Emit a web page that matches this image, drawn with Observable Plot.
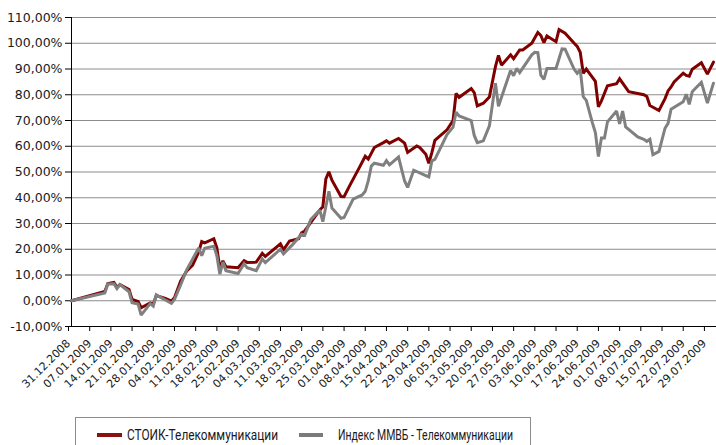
<!DOCTYPE html>
<html>
<head>
<meta charset="utf-8">
<script src="https://cdn.jsdelivr.net/npm/d3@7"></script>
<script src="https://cdn.jsdelivr.net/npm/@observablehq/plot@0.6"></script>
<style>
  html, body { margin: 0; padding: 0; background: #fff; }
  #wrap { position: relative; width: 716px; height: 445px; overflow: hidden; }
  #legend {
    position: absolute; left: 75px; top: 417px; width: 456px; height: 29px;
    box-sizing: border-box; border: 1px solid #8c8c8c; background: #fff;
  }
  #legend svg { position: absolute; left: -1px; top: -1px; overflow: visible; }
</style>
</head>
<body>
<div id="wrap">
  <div id="chart"></div>
  <div id="legend">
    <svg width="620" height="28" font-family="Roboto, sans-serif" font-size="15.5" fill="#1a1a1a">
      <rect x="22" y="16" width="25" height="4" fill="#8b1111"></rect>
      <text x="52" y="23" textLength="151" lengthAdjust="spacingAndGlyphs">СТОИК-Телекоммуникации</text>
      <rect x="224" y="16" width="24" height="4" fill="#7a7a7a"></rect>
      <text x="263" y="23" textLength="175" lengthAdjust="spacingAndGlyphs">Индекс ММВБ - Телекоммуникации</text>
    </svg>
  </div>
</div>
<script>
// ---- data ----
const seriesNames = ["СТОИК-Телекоммуникации", "Индекс ММВБ - Телекоммуникации"];

const stoikDates = ["2008-12-31","2009-01-11","2009-01-12","2009-01-14","2009-01-15","2009-01-16","2009-01-19","2009-01-20","2009-01-22","2009-01-23","2009-01-26","2009-01-27","2009-01-28","2009-01-31","2009-02-02","2009-02-03","2009-02-05","2009-02-07","2009-02-09","2009-02-11","2009-02-12","2009-02-13","2009-02-16","2009-02-17","2009-02-18","2009-02-19","2009-02-20","2009-02-24","2009-02-26","2009-02-27","2009-03-02","2009-03-04","2009-03-05","2009-03-10","2009-03-11","2009-03-13","2009-03-16","2009-03-17","2009-03-18","2009-03-20","2009-03-23","2009-03-24","2009-03-25","2009-03-26","2009-03-27","2009-03-30","2009-03-31","2009-04-02","2009-04-05","2009-04-07","2009-04-08","2009-04-10","2009-04-13","2009-04-14","2009-04-15","2009-04-18","2009-04-20","2009-04-21","2009-04-24","2009-04-25","2009-04-27","2009-04-28","2009-04-29","2009-04-30","2009-05-04","2009-05-06","2009-05-07","2009-05-08","2009-05-12","2009-05-13","2009-05-14","2009-05-16","2009-05-18","2009-05-20","2009-05-21","2009-05-22","2009-05-25","2009-05-26","2009-05-28","2009-05-29","2009-06-01","2009-06-03","2009-06-04","2009-06-05","2009-06-06","2009-06-09","2009-06-10","2009-06-12","2009-06-15","2009-06-16","2009-06-17","2009-06-18","2009-06-19","2009-06-22","2009-06-23","2009-06-24","2009-06-26","2009-06-29","2009-06-30","2009-07-03","2009-07-08","2009-07-09","2009-07-10","2009-07-13","2009-07-15","2009-07-16","2009-07-17","2009-07-18","2009-07-21","2009-07-22","2009-07-23","2009-07-24","2009-07-27","2009-07-29","2009-07-31"];
const stoikValues = [0,3.6,6.7,7.1,5.2,6.3,4.4,0.5,-0.3,-2.7,-0.8,-1.3,2.0,0.9,-0.1,1.2,7.5,11.5,13.8,18.9,23.0,22.5,24.1,20.5,12.5,15.5,13.2,12.8,15.6,14.9,15.0,18.4,17.2,22.1,19.8,23.2,24.1,26.4,27.1,30.3,35.3,36.5,47.3,50.1,46.8,40.5,40.4,45.0,51.6,56.1,55.0,59.5,61.4,62.1,61.2,63.0,61.2,57.6,60.1,59.5,56.9,53.4,57.5,62.3,66.4,70.0,80.5,79.0,82.4,80.8,75.7,76.7,79.1,90.9,95.3,91.5,95.5,94.0,97.4,97.4,100.0,104.2,103.0,100.2,102.8,100.6,105.3,103.9,100.0,98.8,96.5,88.3,90.0,85.2,75.3,77.6,83.5,84.3,86.2,81.2,80.0,79.3,75.8,73.9,78.5,81.5,83.0,85.0,88.4,87.5,87.2,89.9,92.4,88.0,92.7];

const indexDates = ["2008-12-31","2009-01-11","2009-01-12","2009-01-14","2009-01-15","2009-01-16","2009-01-19","2009-01-20","2009-01-22","2009-01-23","2009-01-26","2009-01-27","2009-01-28","2009-01-31","2009-02-02","2009-02-03","2009-02-05","2009-02-07","2009-02-11","2009-02-12","2009-02-13","2009-02-16","2009-02-17","2009-02-18","2009-02-19","2009-02-20","2009-02-24","2009-02-26","2009-02-27","2009-03-02","2009-03-04","2009-03-05","2009-03-10","2009-03-11","2009-03-14","2009-03-17","2009-03-18","2009-03-20","2009-03-23","2009-03-24","2009-03-26","2009-03-27","2009-03-30","2009-03-31","2009-04-03","2009-04-06","2009-04-07","2009-04-08","2009-04-09","2009-04-10","2009-04-13","2009-04-14","2009-04-15","2009-04-18","2009-04-19","2009-04-20","2009-04-21","2009-04-23","2009-04-27","2009-04-28","2009-04-29","2009-04-30","2009-05-04","2009-05-06","2009-05-07","2009-05-08","2009-05-12","2009-05-13","2009-05-14","2009-05-16","2009-05-18","2009-05-20","2009-05-21","2009-05-23","2009-05-25","2009-05-26","2009-05-27","2009-05-28","2009-06-01","2009-06-02","2009-06-03","2009-06-04","2009-06-05","2009-06-06","2009-06-09","2009-06-11","2009-06-12","2009-06-15","2009-06-16","2009-06-17","2009-06-18","2009-06-19","2009-06-21","2009-06-22","2009-06-23","2009-06-24","2009-06-25","2009-06-26","2009-06-29","2009-06-30","2009-07-01","2009-07-02","2009-07-06","2009-07-08","2009-07-09","2009-07-10","2009-07-11","2009-07-13","2009-07-15","2009-07-16","2009-07-17","2009-07-21","2009-07-22","2009-07-23","2009-07-24","2009-07-25","2009-07-27","2009-07-29","2009-07-31"];
const indexValues = [0,3.0,6.5,6.6,4.7,6.3,3.5,-0.8,-1.3,-5.6,-1.1,-2.1,2.3,0.3,-1.0,0.5,6.0,11.9,20.5,17.5,20.4,21.2,17.5,10.3,15.0,11.7,10.6,14.4,12.8,11.7,16.2,14.8,20.0,18.2,21.8,25.8,25.4,31.5,35.2,30.7,42.5,36.0,32.0,32.3,39.5,41.1,42.5,46.5,52.3,53.4,52.6,54.4,52.8,55.8,51.1,46.5,44.0,50.7,48.6,48.1,54.3,54.9,64.5,67.4,73.2,71.8,70.0,64.2,61.4,62.1,67.9,84.5,75.5,82.5,89.4,87.4,90.2,88.6,95.5,96.5,96.4,87.6,86.0,90.2,90.2,97.8,97.7,89.9,88.3,89.8,79.3,77.8,69.2,65.3,56.0,63.2,63.2,69.5,73.7,68.7,73.7,67.5,63.6,62.7,61.9,62.7,56.7,58.0,67.0,68.9,74.4,77.3,80.2,76.3,81.2,82.4,84.8,76.8,84.5];

const xTickLabels = ["31.12.2008","07.01.2009","14.01.2009","21.01.2009","28.01.2009","04.02.2009","11.02.2009","18.02.2009","25.02.2009","04.03.2009","11.03.2009","18.03.2009","25.03.2009","01.04.2009","08.04.2009","15.04.2009","22.04.2009","29.04.2009","06.05.2009","13.05.2009","20.05.2009","27.05.2009","03.06.2009","10.06.2009","17.06.2009","24.06.2009","01.07.2009","08.07.2009","15.07.2009","22.07.2009","29.07.2009"];
const yTicks = [-10,0,10,20,30,40,50,60,70,80,90,100,110];
const xDomain = ["2008-12-31","2009-08-01"];

// ---- build ----
const parseISO = d3.utcParse("%Y-%m-%d");
const parseRu = d3.utcParse("%d.%m.%Y");
const fmtRu = d3.utcFormat("%d.%m.%Y");
const stoik = stoikDates.map((d, i) => ({date: parseISO(d), value: stoikValues[i], series: seriesNames[0]}));
const index = indexDates.map((d, i) => ({date: parseISO(d), value: indexValues[i], series: seriesNames[1]}));
const xTicks = xTickLabels.map(parseRu);
const fmtPct = v => (v < 0 ? "-" : "") + Math.abs(v).toFixed(2).replace(".", ",") + "%";
const FONT = "DejaVu Sans";

const chart = Plot.plot({
  width: 716,
  height: 410,
  marginLeft: 71,
  marginRight: 0,
  marginTop: 17,
  marginBottom: 84,
  style: {fontFamily: FONT, color: "#1a1a1a", background: "#fff"},
  x: {type: "utc", domain: xDomain.map(parseISO)},
  y: {domain: [-10, 110]},
  marks: [
    Plot.gridY(yTicks.filter(v => v > -10), {stroke: "#8c8c8c", strokeOpacity: 1, strokeWidth: 1}),
    Plot.axisY(yTicks, {tickFormat: fmtPct, tickSize: 6, tickPadding: 3, fontSize: 12.5, fontFamily: FONT, label: null, stroke: "#000", fill: "#1a1a1a"}),
    Plot.axisX(xTicks, {tickFormat: fmtRu, tickSize: 5, tickPadding: 10, tickRotate: -45, dx: -3, fontSize: 11, fontFamily: FONT, label: null, stroke: "#000", fill: "#1a1a1a"}),
    Plot.ruleY([-10], {stroke: "#000", strokeWidth: 1}),
    Plot.ruleX([parseISO(xDomain[0])], {stroke: "#000", strokeWidth: 1}),
    Plot.line(stoik, {x: "date", y: "value", stroke: "#800000", strokeWidth: 3, strokeLinejoin: "miter", strokeMiterlimit: 2}),
    Plot.line(index, {x: "date", y: "value", stroke: "#808080", strokeWidth: 3, strokeLinejoin: "miter", strokeMiterlimit: 2})
  ]
});
document.getElementById("chart").appendChild(chart);
</script>
</body>
</html>
